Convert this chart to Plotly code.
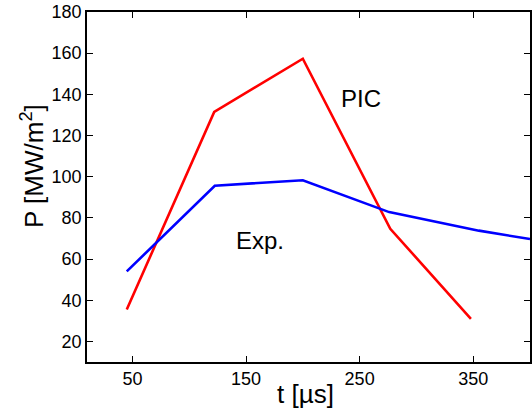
import plotly.graph_objects as go

# Data
pic_t = [45, 122, 200, 277, 348]
pic_p = [35.5, 131.5, 157.3, 74.7, 31.0]
exp_t = [45, 122.5, 200, 276, 355, 400]
exp_p = [54.0, 95.6, 98.3, 82.8, 73.8, 69.7]

x_ticks = [50, 150, 250, 350]
y_ticks = [20, 40, 60, 80, 100, 120, 140, 160, 180]

FONT = "Liberation Sans, Arial, Helvetica, sans-serif"

fig = go.Figure()
fig.add_trace(go.Scatter(x=pic_t, y=pic_p, mode="lines",
                         line=dict(color="#ff0000", width=2.6), showlegend=False))
fig.add_trace(go.Scatter(x=exp_t, y=exp_p, mode="lines",
                         line=dict(color="#0000ff", width=2.6), showlegend=False))

axis_common = dict(showgrid=False, zeroline=False, showline=True, mirror="ticks",
                   linecolor="black", linewidth=1.5, ticks="inside", ticklen=6,
                   tickwidth=1, tickcolor="black", automargin=False,
                   tickfont=dict(family=FONT, size=18, color="black"))

fig.update_xaxes(range=[10, 400], tickvals=x_ticks, **axis_common)
fig.update_yaxes(range=[10, 180], tickvals=y_ticks, **axis_common)

w_plot = 532 - 87 - 2
h_plot = 414 - 12 - 52

fig.add_annotation(x=251, y=138, xref="x", yref="y", text="PIC", showarrow=False,
                   font=dict(family=FONT, size=24, color="black"),
                   xanchor="center", yanchor="middle")
fig.add_annotation(x=162.3, y=69.2, xref="x", yref="y", text="Exp.", showarrow=False,
                   font=dict(family=FONT, size=24, color="black"),
                   xanchor="center", yanchor="middle")
# axis titles
fig.add_annotation(x=(305 - 87) / w_plot, y=-(394 - 362) / h_plot, xref="paper", yref="paper",
                   text="t [µs]", showarrow=False,
                   font=dict(family=FONT, size=26, color="black"),
                   xanchor="center", yanchor="middle")
fig.add_annotation(x=(33 - 87) / w_plot, y=(362 - 166) / h_plot, xref="paper", yref="paper",
                   text="P [MW/m<sup>2</sup>]", showarrow=False,
                   font=dict(family=FONT, size=26, color="black"),
                   textangle=-90, xanchor="center", yanchor="middle")

fig.update_layout(width=532, height=414,
                  margin=dict(l=87, r=2, t=12, b=52),
                  paper_bgcolor="white", plot_bgcolor="white",
                  font=dict(family=FONT, color="black"))

fig.write_html("out.html", config={"displayModeBar": False},
               post_script="document.body.style.margin='0';document.body.style.overflow='hidden';")
